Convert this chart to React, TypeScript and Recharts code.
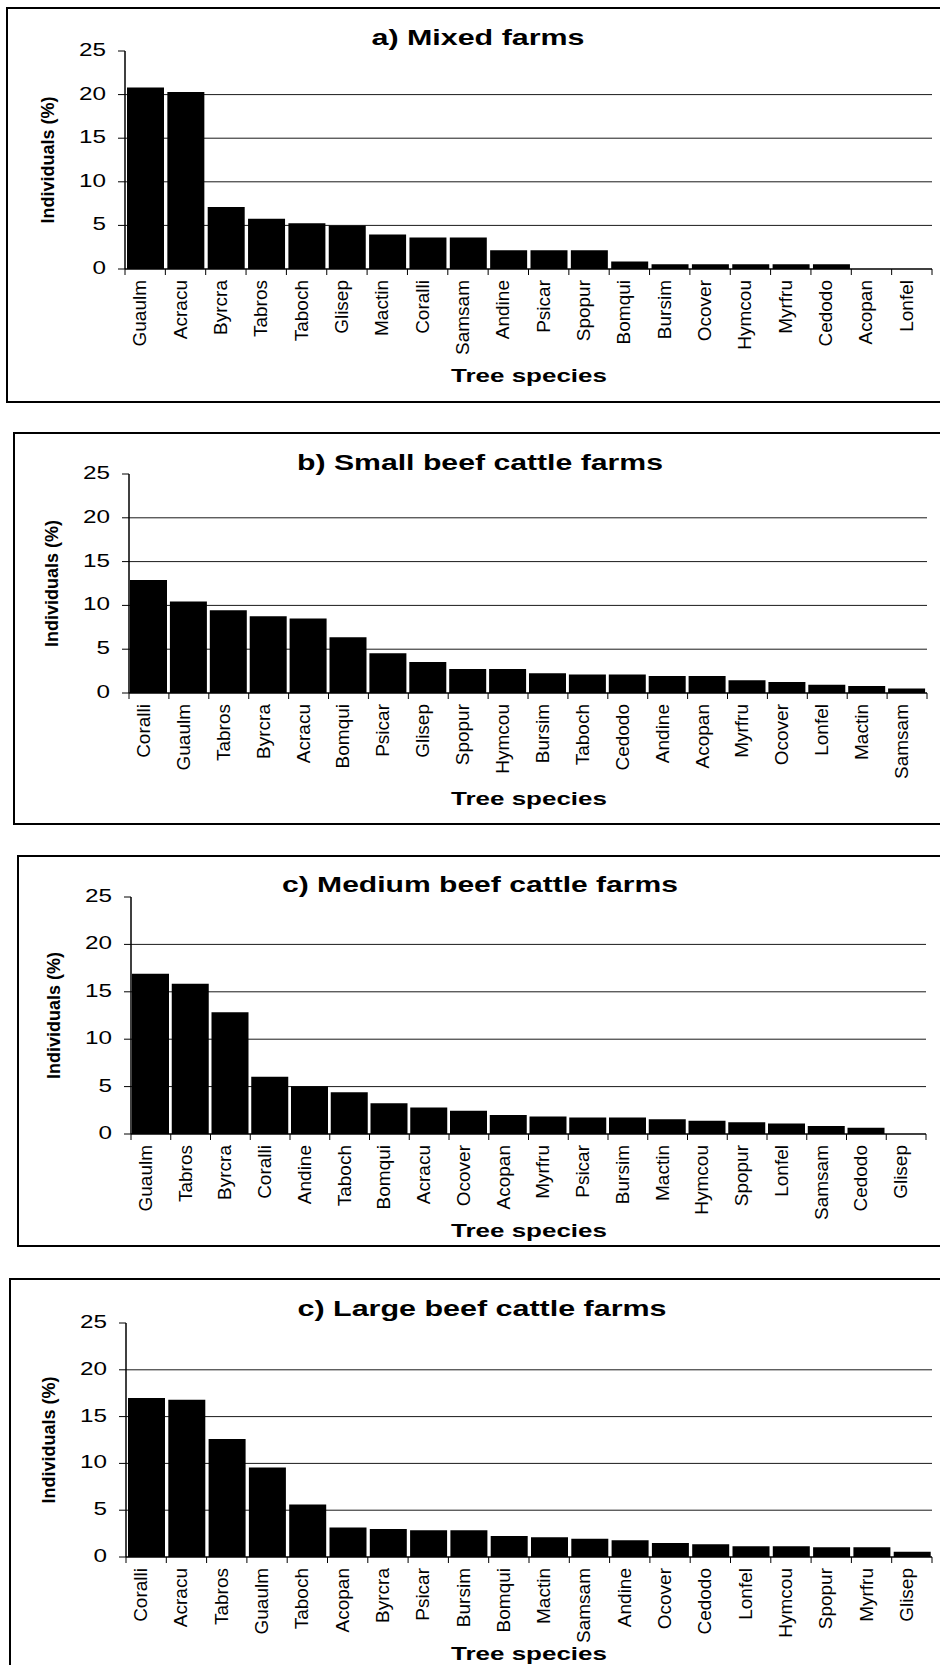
import { Bar, BarChart, CartesianGrid, XAxis, YAxis } from "recharts";

const FONT = "'Liberation Sans', Arial, Helvetica, sans-serif";

const MIXED_NAMES = ["Guaulm", "Acracu", "Byrcra", "Tabros", "Taboch", "Glisep", "Mactin", "Coralli", "Samsam", "Andine", "Psicar", "Spopur", "Bomqui", "Bursim", "Ocover", "Hymcou", "Myrfru", "Cedodo", "Acopan", "Lonfel"];
const MIXED_VALUES = [20.8, 20.3, 7.1, 5.75, 5.25, 5.0, 3.95, 3.6, 3.6, 2.15, 2.15, 2.15, 0.85, 0.55, 0.55, 0.55, 0.55, 0.55, 0, 0];

const SMALL_NAMES = ["Coralli", "Guaulm", "Tabros", "Byrcra", "Acracu", "Bomqui", "Psicar", "Glisep", "Spopur", "Hymcou", "Bursim", "Taboch", "Cedodo", "Andine", "Acopan", "Myrfru", "Ocover", "Lonfel", "Mactin", "Samsam"];
const SMALL_VALUES = [12.9, 10.45, 9.45, 8.75, 8.5, 6.35, 4.55, 3.55, 2.75, 2.75, 2.25, 2.1, 2.1, 1.95, 1.95, 1.45, 1.25, 0.95, 0.8, 0.5];

const MEDIUM_NAMES = ["Guaulm", "Tabros", "Byrcra", "Coralli", "Andine", "Taboch", "Bomqui", "Acracu", "Ocover", "Acopan", "Myrfru", "Psicar", "Bursim", "Mactin", "Hymcou", "Spopur", "Lonfel", "Samsam", "Cedodo", "Glisep"];
const MEDIUM_VALUES = [16.9, 15.85, 12.85, 6.05, 5.05, 4.4, 3.25, 2.8, 2.45, 2.0, 1.85, 1.75, 1.75, 1.55, 1.4, 1.25, 1.1, 0.85, 0.65, 0];

const LARGE_NAMES = ["Coralli", "Acracu", "Tabros", "Guaulm", "Taboch", "Acopan", "Byrcra", "Psicar", "Bursim", "Bomqui", "Mactin", "Samsam", "Andine", "Ocover", "Cedodo", "Lonfel", "Hymcou", "Spopur", "Myrfru", "Glisep"];
const LARGE_VALUES = [17.0, 16.8, 12.6, 9.55, 5.6, 3.15, 3.0, 2.85, 2.85, 2.25, 2.1, 1.95, 1.8, 1.5, 1.35, 1.15, 1.15, 1.05, 1.05, 0.55];

const Y_TICKS = [0, 5, 10, 15, 20, 25];
const GRID_VALUES = [5, 10, 15, 20];
const Y_LABEL = "Individuals (%)";
const X_LABEL = "Tree species";

// layout of the four stacked panels (page coordinates)
const PANELS = [
  {
    title: "a) Mixed farms", names: MIXED_NAMES, values: MIXED_VALUES,
    frame: { left: 6, top: 7, bottom: 403 }, chartBottom: 403,
    plot: { left: 125, right: 932, top: 51, bottom: 269 },
    titleX: 478, titleY: 45, titleLen: 213, xLabelY: 382,
  },
  {
    title: "b) Small beef cattle farms", names: SMALL_NAMES, values: SMALL_VALUES,
    frame: { left: 13, top: 432, bottom: 825 }, chartBottom: 825,
    plot: { left: 129, right: 927, top: 474, bottom: 693 },
    titleX: 480, titleY: 470, titleLen: 366, xLabelY: 805,
  },
  {
    title: "c) Medium beef cattle farms", names: MEDIUM_NAMES, values: MEDIUM_VALUES,
    frame: { left: 17, top: 855, bottom: 1247 }, chartBottom: 1247,
    plot: { left: 131, right: 926, top: 897, bottom: 1134 },
    titleX: 480, titleY: 892, titleLen: 396, xLabelY: 1237,
  },
  {
    title: "c) Large beef cattle farms", names: LARGE_NAMES, values: LARGE_VALUES,
    frame: { left: 9, top: 1278, bottom: 1700 }, chartBottom: 1665,
    plot: { left: 126, right: 932, top: 1323, bottom: 1557 },
    titleX: 482, titleY: 1316, titleLen: 369, xLabelY: 1660,
  },
];

type Panel = (typeof PANELS)[number];

function YTick(props: any) {
  const { x, y, payload } = props;
  const s = String(payload.value);
  return (
    <text
      x={x}
      y={y}
      dy={5}
      textAnchor="end"
      fontSize={18}
      fontFamily={FONT}
      fill="#000"
      textLength={s.length * 13.5}
      lengthAdjust="spacingAndGlyphs"
    >
      {s}
    </text>
  );
}

function makeXTick(step: number, count: number) {
  return (props: any) => {
    const { x, y, payload, index } = props;
    const half = step / 2;
    return (
      <g>
        <line x1={x - half} x2={x - half} y1={y} y2={y + 6} stroke="#000" />
        {index === count - 1 && (
          <line x1={x + half} x2={x + half} y1={y} y2={y + 6} stroke="#000" />
        )}
        <text
          x={x + 1}
          y={y + 11}
          transform={`rotate(-90 ${x + 1} ${y + 11})`}
          textAnchor="end"
          fontSize={19}
          fontFamily={FONT}
          fill="#000"
        >
          {payload.value}
        </text>
      </g>
    );
  };
}

function FarmPanel({ p }: { p: Panel }) {
  const data = p.names.map((name, i) => ({ name, value: p.values[i] }));
  const chartTop = p.frame.top;
  const chartH = p.chartBottom - chartTop;
  const step = (p.plot.right - p.plot.left) / data.length;

  return (
    <>
      <div
        style={{
          position: "absolute",
          left: p.frame.left,
          top: p.frame.top,
          width: 980 - p.frame.left,
          height: p.frame.bottom - p.frame.top,
          border: "2px solid #000",
          boxSizing: "border-box",
        }}
      />
      <div style={{ position: "absolute", left: 0, top: chartTop }}>
        <BarChart
          width={940}
          height={chartH}
          data={data}
          barSize={37}
          margin={{ top: p.plot.top - chartTop, right: 940 - p.plot.right, bottom: 0, left: 0 }}
        >
          <CartesianGrid vertical={false} horizontalValues={GRID_VALUES} stroke="#1a1a1a" />
          <XAxis
            dataKey="name"
            interval={0}
            height={p.chartBottom - p.plot.bottom}
            tickLine={false}
            tickSize={0}
            tickMargin={0}
            axisLine={{ stroke: "#000", strokeWidth: 1.5 }}
            tick={makeXTick(step, data.length)}
          />
          <XAxis
            xAxisId="top"
            orientation="top"
            dataKey="name"
            height={0}
            tick={false}
            tickLine={false}
            axisLine={{ stroke: "#8a8a8a", strokeWidth: 2 }}
          />
          <YAxis
            domain={[0, 25]}
            ticks={Y_TICKS}
            interval={0}
            width={p.plot.left}
            tickSize={7}
            tickMargin={12}
            tickLine={{ stroke: "#000" }}
            axisLine={{ stroke: "#000", strokeWidth: 1.5 }}
            tick={YTick}
          />
          <YAxis
            yAxisId="right"
            orientation="right"
            domain={[0, 25]}
            width={0}
            tick={false}
            tickLine={false}
            axisLine={{ stroke: "#8a8a8a", strokeWidth: 2 }}
          />
          <Bar dataKey="value" fill="#000" isAnimationActive={false} />
        </BarChart>
      </div>
    </>
  );
}

export default function App() {
  return (
    <div
      style={{
        position: "absolute",
        left: 0,
        top: 0,
        width: 940,
        height: 1665,
        overflow: "hidden",
        background: "#fff",
        fontFamily: FONT,
      }}
    >
      {PANELS.map((p) => (
        <FarmPanel key={p.title} p={p} />
      ))}
      <svg
        width={940}
        height={1665}
        style={{ position: "absolute", left: 0, top: 0, pointerEvents: "none" }}
      >
        {PANELS.map((p) => {
          const cy = (p.plot.top + p.plot.bottom) / 2;
          const lx = p.plot.left - 71;
          return (
            <g key={p.title} fontFamily={FONT} fill="#000" fontWeight="bold">
              <text
                x={p.titleX}
                y={p.titleY}
                textAnchor="middle"
                fontSize={22}
                textLength={p.titleLen}
                lengthAdjust="spacingAndGlyphs"
              >
                {p.title}
              </text>
              <text
                x={529}
                y={p.xLabelY}
                textAnchor="middle"
                fontSize={18}
                textLength={156}
                lengthAdjust="spacingAndGlyphs"
              >
                {X_LABEL}
              </text>
              <text
                x={lx}
                y={cy}
                transform={`rotate(-90 ${lx} ${cy})`}
                textAnchor="middle"
                fontSize={18}
              >
                {Y_LABEL}
              </text>
            </g>
          );
        })}
      </svg>
    </div>
  );
}
